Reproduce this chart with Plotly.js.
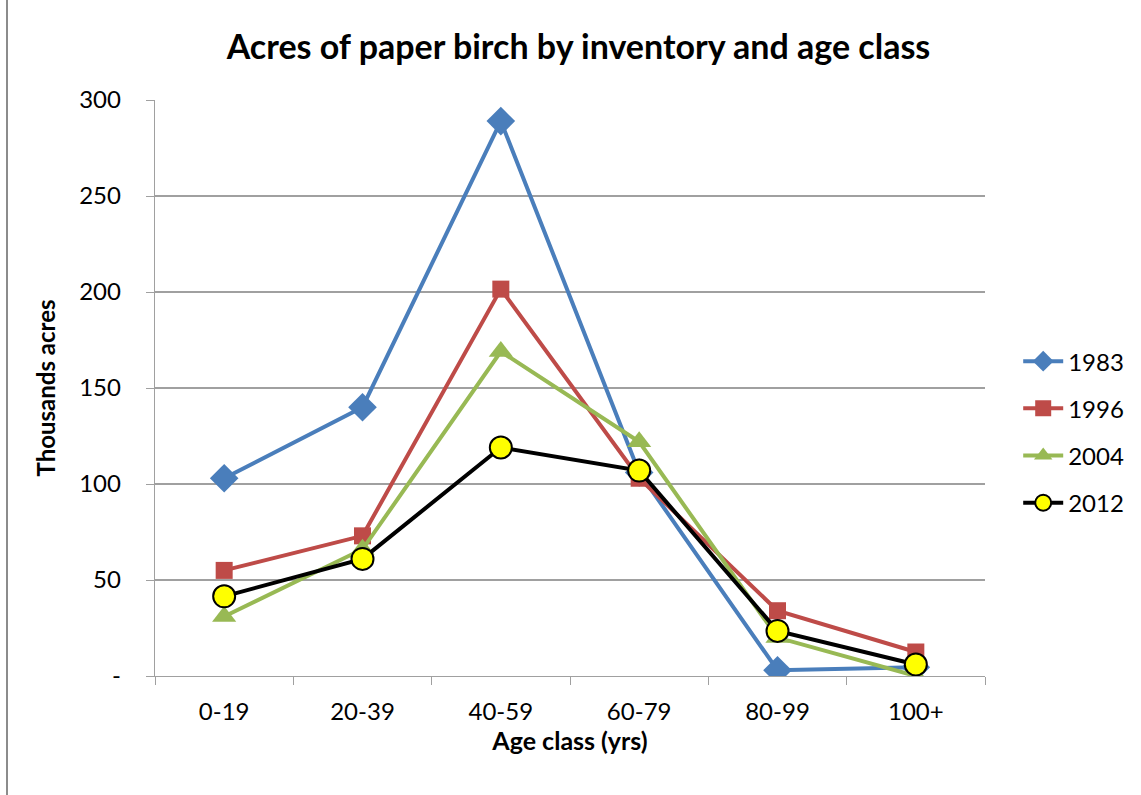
<!DOCTYPE html>
<html>
<head>
<meta charset="utf-8">
<script src="https://cdn.plot.ly/plotly-3.0.1.min.js"></script>
<style>
html,body{margin:0;padding:0;background:#fff;}
#wrap{position:relative;width:1141px;height:795px;}
#frame{position:absolute;left:6px;top:0;width:1135px;height:795px;border-left:2px solid #8c8c8c;box-sizing:border-box;pointer-events:none;}
#chart{position:absolute;left:0;top:0;width:1141px;height:795px;}
</style>
</head>
<body>
<div id="wrap"><div id="chart"></div><div id="frame"></div></div>
<script>
const categories = ["0-19", "20-39", "40-59", "60-79", "80-99", "100+"];
const s1983 = [103, 140, 289, 106, 3, 4.5];
const s1996 = [55, 73, 201.5, 103, 34, 12.5];
const s2004 = [31, 66, 169, 122, 20, 0];
const s2012 = [41.5, 61, 119, 107, 23.5, 6];
const yTickVals = [0, 50, 100, 150, 200, 250, 300];
const yTickText = ["-", "50", "100", "150", "200", "250", "300"];

const FONT = "Lato, 'Open Sans', sans-serif";
const traces = [
  {name: "1983", y: s1983, line: {color: "#4a7ebb", width: 4},
   marker: {symbol: "diamond", size: 22, color: "#4a7ebb"}},
  {name: "1996", y: s1996, line: {color: "#be4b48", width: 4},
   marker: {symbol: "square", size: 17, color: "#be4b48"}},
  {name: "2004", y: s2004, line: {color: "#98b954", width: 4},
   marker: {symbol: "triangle-up", size: 21, color: "#98b954"}},
  {name: "2012", y: s2012, line: {color: "#000000", width: 4},
   marker: {symbol: "circle", size: 22, color: "#ffff00", line: {color: "#000", width: 2}}}
].map((t, i) => Object.assign({x: categories, type: "scatter", mode: "lines+markers", legendgroup: "g" + i}, t));

const layout = {
  width: 1141, height: 795,
  margin: {l: 155, r: 156, t: 100, b: 119},
  paper_bgcolor: "#fff", plot_bgcolor: "#fff",
  font: {family: FONT, size: 24, color: "#000"},
  title: {text: "<b>Acres of paper birch by inventory and age class</b>",
          font: {family: FONT, size: 34, color: "#000"}, x: 0.507, xanchor: "center", y: 0.941, yanchor: "middle"},
  xaxis: {
    type: "category", range: [-0.5, 5.5],
    showline: true, linecolor: "#a0a0a0", linewidth: 1.3,
    ticks: "outside", tickson: "boundaries", ticklen: 8, tickcolor: "#a0a0a0",
    showgrid: false, zeroline: false,
    tickfont: {family: FONT, size: 24}, ticklabelstandoff: 14,
    title: {text: "<b>Age class (yrs)</b>", font: {family: FONT, size: 25}, standoff: 0}
  },
  yaxis: {
    range: [0, 300], tickvals: yTickVals, ticktext: yTickText,
    showline: true, linecolor: "#a0a0a0", linewidth: 1.3,
    ticks: "outside", ticklen: 8, tickcolor: "#a0a0a0",
    showgrid: true, gridcolor: "#a0a0a0", gridwidth: 1.2, zeroline: false,
    tickfont: {family: FONT, size: 24}, ticklabelstandoff: 20,
    title: {text: "<b>Thousands acres</b>", font: {family: FONT, size: 24}, standoff: 16}
  },
  legend: {x: 1.04, xanchor: "left", y: 0.585, yanchor: "top",
           font: {family: FONT, size: 24}, tracegroupgap: 13, itemwidth: 40, bgcolor: "rgba(0,0,0,0)"},
  showlegend: true
};
Plotly.newPlot("chart", traces, layout, {displayModeBar: false, staticPlot: true});
</script>
</body>
</html>
